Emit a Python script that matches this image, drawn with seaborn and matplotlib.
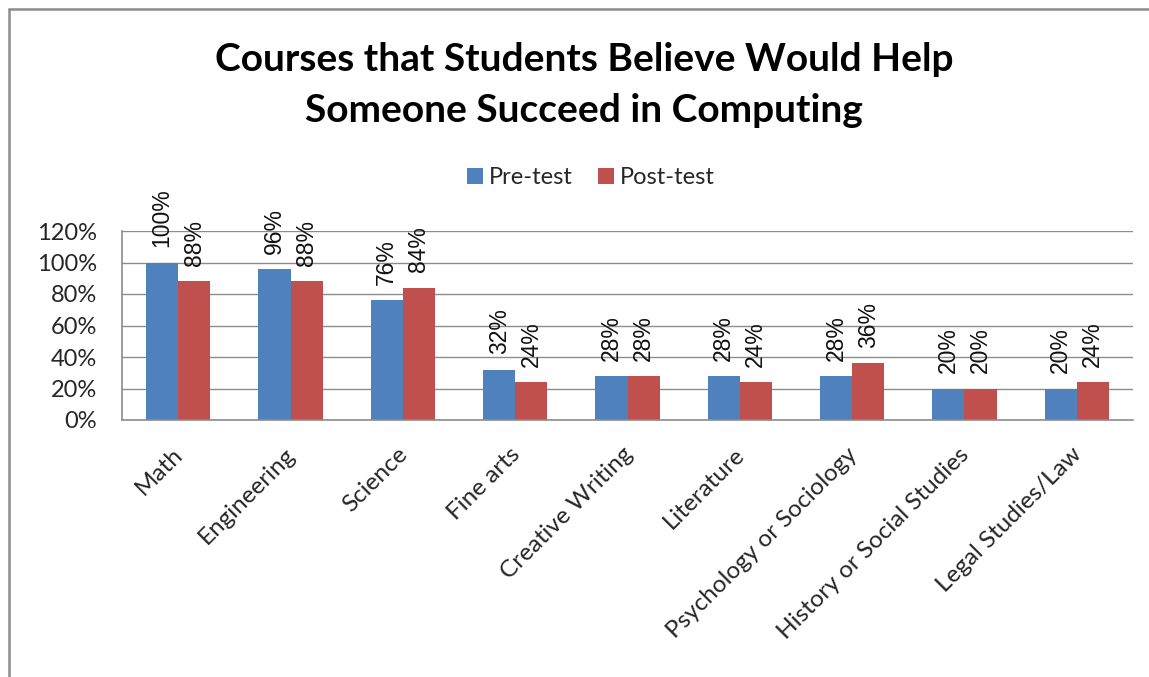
import pandas as pd
import matplotlib
matplotlib.use("Agg")
import matplotlib.pyplot as plt
import matplotlib.transforms as mtrans
from matplotlib.lines import Line2D
from matplotlib.patches import Patch
from matplotlib.ticker import FixedLocator, PercentFormatter
import seaborn as sns

## data
courses = ["Math", "Engineering", "Science", "Fine arts", "Creative Writing",
           "Literature", "Psychology or Sociology", "History or Social Studies",
           "Legal Studies/Law"]
pre_test = [100, 96, 76, 32, 28, 28, 28, 20, 20]
post_test = [88, 88, 84, 24, 28, 24, 36, 20, 24]
series_names = ["Pre-test", "Post-test"]
colors = ["#4F81BD", "#C0504D"]
y_ticks = [0, 20, 40, 60, 80, 100, 120]

df = pd.DataFrame({
    "course": courses * 2,
    "value": pre_test + post_test,
    "series": [series_names[0]] * len(courses) + [series_names[1]] * len(courses),
})

sns.set_style("white")
plt.rcParams["font.family"] = ["Lato", "DejaVu Sans"]

W, H = 1149, 677
fig = plt.figure(figsize=(W / 100, H / 100), dpi=100)
ax = fig.add_axes([122 / W, 1 - 420 / H, (1133 - 122) / W, (420 - 231) / H])

sns.barplot(data=df, x="course", y="value", hue="series", palette=colors,
            width=0.57, gap=0, saturation=1, ax=ax, legend=False,
            edgecolor="none")

# value labels
for cont in ax.containers:
    ax.bar_label(cont, labels=[f"{int(v)}%" for v in cont.datavalues],
                 rotation=90, padding=11, fontsize=16.5,
                 family=["Liberation Sans", "DejaVu Sans"], color="#111111")

grid_c = "#8c8c8c"
ax.set_xlim(-0.5, len(courses) - 0.5)
ax.set_ylim(0, 120)
ax.yaxis.set_major_locator(FixedLocator(y_ticks))
ax.yaxis.set_major_formatter(PercentFormatter(decimals=0))
ax.grid(axis="y", color=grid_c, linewidth=1)
ax.set_axisbelow(True)
for s in ["top", "right"]:
    ax.spines[s].set_visible(False)
for s in ["left", "bottom"]:
    ax.spines[s].set_color(grid_c)
    ax.spines[s].set_linewidth(1.2)

ax.set_xlabel("")
ax.set_ylabel("")
ax.tick_params(axis="y", length=6, color=grid_c, width=1, labelsize=17, pad=12)
ax.set_xticks(range(len(courses)))
ax.set_xticklabels(courses, rotation=45, ha="right", rotation_mode="anchor",
                   fontsize=17.5)
ax.tick_params(axis="x", which="major", length=0, pad=17)
shift = mtrans.ScaledTranslation(-6 / 100, 0, fig.dpi_scale_trans)
for lbl in ax.get_xticklabels():
    lbl.set_transform(lbl.get_transform() + shift)
ax.set_xticks([i - 0.5 for i in range(len(courses) + 1)], minor=True)
ax.tick_params(axis="x", which="minor", length=6, color=grid_c, width=1)

# title
fig.text(584 / W, 1 - 85 / H,
         "Courses that Students Believe Would Help\nSomeone Succeed in Computing",
         ha="center", va="center", fontsize=28, fontweight="bold",
         linespacing=1.55, color="black")

# legend
handles = [Patch(facecolor=c, edgecolor="none") for c in colors]
fig.legend(handles, series_names, loc="center", bbox_to_anchor=(591 / W, 1 - 178 / H),
           ncol=2, frameon=False, fontsize=17, handlelength=0.65, handleheight=0.65,
           handletextpad=0.25, columnspacing=1.1)

# chart border (left and top edges visible)
fig.add_artist(Line2D([8.5 / W, 8.5 / W], [0, 1 - 8.5 / H], color="#8c8c8c",
                      linewidth=1.8, transform=fig.transFigure))
fig.add_artist(Line2D([8.5 / W, 1], [1 - 8.5 / H, 1 - 8.5 / H], color="#8c8c8c",
                      linewidth=1.8, transform=fig.transFigure))

fig.savefig("out.png", dpi=100, facecolor="white")
